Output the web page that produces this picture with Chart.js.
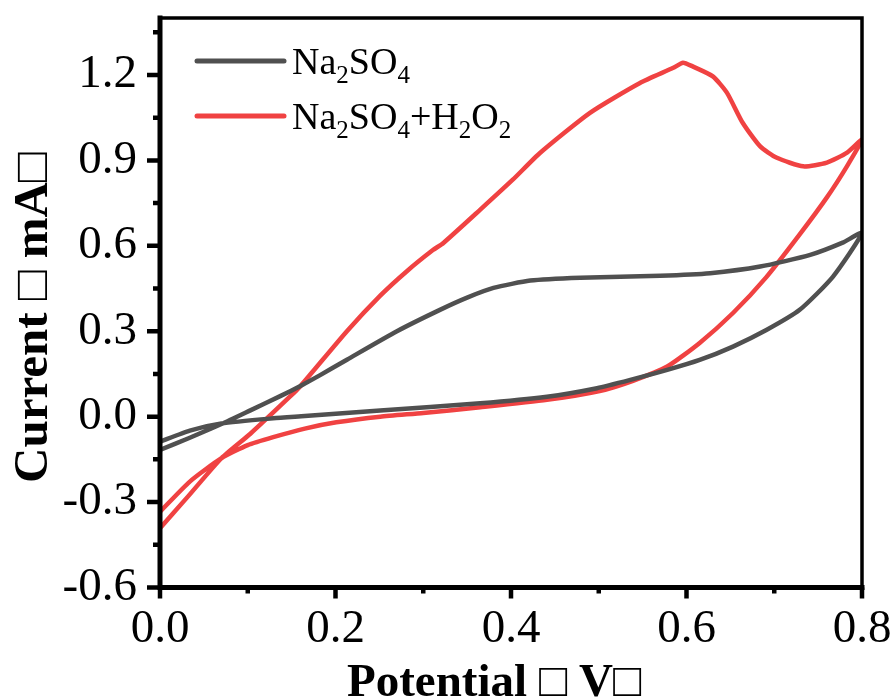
<!DOCTYPE html>
<html>
<head>
<meta charset="utf-8">
<script src="https://cdn.jsdelivr.net/npm/chart.js@4.4.0/dist/chart.umd.min.js"></script>
<style>
  html, body { margin: 0; padding: 0; background: #fff; }
</style>
</head>
<body>
<canvas id="cvChart" width="893" height="700"></canvas>
<script>
// cyclic voltammograms, potential in V, current in mA
const naPotential = [0.000, 0.034, 0.070, 0.103, 0.137, 0.160, 0.182, 0.213, 0.270, 0.319, 0.350, 0.380, 0.422, 0.479, 0.570, 0.627, 0.684, 0.741, 0.778, 0.800,
  0.767, 0.729, 0.691, 0.653, 0.615, 0.578, 0.536, 0.498, 0.441, 0.365, 0.251, 0.165, 0.129, 0.070, 0.034, 0.000];
const naCurrent = [-0.117, -0.074, -0.026, 0.022, 0.072, 0.108, 0.145, 0.200, 0.300, 0.375, 0.418, 0.452, 0.478, 0.488, 0.495, 0.504, 0.527, 0.568, 0.611, 0.645,
  0.492, 0.375, 0.304, 0.246, 0.199, 0.164, 0.129, 0.100, 0.070, 0.047, 0.022, 0.002, -0.006, -0.024, -0.049, -0.088];

const h2o2Potential = [0.000, 0.032, 0.070, 0.103, 0.148, 0.160, 0.213, 0.251, 0.281, 0.311, 0.323, 0.365, 0.402, 0.433, 0.490, 0.547, 0.585, 0.596, 0.607, 0.630, 0.646, 0.664, 0.684, 0.703, 0.733, 0.760, 0.783, 0.800,
  0.783, 0.760, 0.729, 0.691, 0.653, 0.615, 0.578, 0.539, 0.501, 0.441, 0.365, 0.300, 0.251, 0.201, 0.165, 0.129, 0.100, 0.070, 0.034, 0.000];
const h2o2Current = [-0.392, -0.280, -0.146, -0.060, 0.070, 0.107, 0.300, 0.425, 0.510, 0.585, 0.610, 0.727, 0.832, 0.926, 1.067, 1.172, 1.225, 1.243, 1.230, 1.195, 1.138, 1.032, 0.949, 0.909, 0.879, 0.892, 0.927, 0.973,
  0.880, 0.770, 0.640, 0.490, 0.364, 0.259, 0.176, 0.126, 0.090, 0.059, 0.033, 0.013, 0.000, -0.020, -0.042, -0.072, -0.100, -0.146, -0.228, -0.334];

const seriesLabels = ['Na2SO4', 'Na2SO4+H2O2'];
const xTicks = [0.0, 0.2, 0.4, 0.6, 0.8];
const yTicks = [-0.6, -0.3, 0.0, 0.3, 0.6, 0.9, 1.2];
const xTitle = 'Potential \u25A1 V\u25A1';
const yTitle = 'Current \u25A1 mA\u25A1';

const serif = '"Liberation Serif", "Times New Roman", serif';
const grayLine = 'rgb(80, 80, 80)';
const redLine = 'rgb(240, 66, 66)';

function toPoints(xs, ys) {
  return xs.map((x, i) => ({ x: x, y: ys[i] }));
}

// digits in a formula are drawn as subscripts
function drawFormula(ctx, text, x, y, size) {
  const parts = text.split(/(\d+)/).filter(p => p.length);
  parts.forEach(p => {
    const sub = /^\d+$/.test(p);
    ctx.font = (sub ? Math.round(size * 0.66) : size) + 'px ' + serif;
    ctx.fillText(p, x, sub ? y + size * 0.24 : y);
    x += ctx.measureText(p).width;
  });
}

// keep the plot box where the layout padding puts it
function noScalePadding(s) {
  s.paddingTop = 0;
  s.paddingBottom = 0;
  s.paddingLeft = 0;
  s.paddingRight = 0;
}

const cvFrame = {
  id: 'cvFrame',
  afterDraw(chart) {
    const ctx = chart.ctx;
    const a = chart.chartArea;
    const xs = chart.scales.x;
    const ys = chart.scales.y;
    ctx.save();
    ctx.strokeStyle = '#000';
    ctx.lineCap = 'square';

    // top and right borders
    ctx.lineWidth = 3.5;
    ctx.beginPath();
    ctx.moveTo(a.left, a.top);
    ctx.lineTo(a.right, a.top);
    ctx.lineTo(a.right, a.bottom);
    ctx.stroke();

    // left and bottom axes
    ctx.lineWidth = 5;
    ctx.beginPath();
    ctx.moveTo(a.left, a.top);
    ctx.lineTo(a.left, a.bottom);
    ctx.lineTo(a.right, a.bottom);
    ctx.stroke();

    // ticks, outward
    ctx.lineCap = 'butt';
    ctx.lineWidth = 4.5;
    ctx.beginPath();
    yTicks.forEach(v => {
      const py = ys.getPixelForValue(v);
      ctx.moveTo(a.left, py);
      ctx.lineTo(a.left - 13, py);
      const m = v + 0.15;
      if (m <= ys.max) {
        const pm = ys.getPixelForValue(m);
        ctx.moveTo(a.left, pm);
        ctx.lineTo(a.left - 7, pm);
      }
    });
    xTicks.forEach((v, i) => {
      const px = xs.getPixelForValue(v);
      ctx.moveTo(px, a.bottom);
      ctx.lineTo(px, a.bottom + 11);
      if (i < xTicks.length - 1) {
        const pm = xs.getPixelForValue(v + 0.1);
        ctx.moveTo(pm, a.bottom);
        ctx.lineTo(pm, a.bottom + 6);
      }
    });
    ctx.stroke();

    // legend
    ctx.lineCap = 'round';
    ctx.lineWidth = 5;
    ctx.fillStyle = '#000';
    ctx.textBaseline = 'alphabetic';
    ctx.textAlign = 'left';
    chart.data.datasets.forEach((ds, i) => {
      const ly = 61 + i * 55;
      ctx.strokeStyle = ds.borderColor;
      ctx.beginPath();
      ctx.moveTo(197, ly);
      ctx.lineTo(284, ly);
      ctx.stroke();
      drawFormula(ctx, ds.label, 292, ly + 13, 38);
    });

    // axis titles
    ctx.font = 'bold 47px ' + serif;
    ctx.fillText(xTitle, 347, 696);
    ctx.translate(47, 483);
    ctx.rotate(-Math.PI / 2);
    ctx.font = 'bold 49px ' + serif;
    ctx.fillText(yTitle, 0, 0);
    ctx.restore();
  }
};

const tickFont = { family: serif, size: 47 };

new Chart(document.getElementById('cvChart').getContext('2d'), {
  type: 'scatter',
  data: {
    datasets: [
      {
        label: seriesLabels[0],
        data: toPoints(naPotential, naCurrent),
        borderColor: grayLine,
        backgroundColor: grayLine,
        showLine: true,
        borderWidth: 4.5,
        pointRadius: 0,
        tension: 0.2
      },
      {
        label: seriesLabels[1],
        data: toPoints(h2o2Potential, h2o2Current),
        borderColor: redLine,
        backgroundColor: redLine,
        showLine: true,
        borderWidth: 4.5,
        pointRadius: 0,
        tension: 0.2
      }
    ]
  },
  options: {
    responsive: false,
    animation: false,
    layout: { padding: { top: 18, right: 31, left: 0, bottom: 0 } },
    plugins: {
      legend: { display: false },
      tooltip: { enabled: false }
    },
    scales: {
      x: {
        type: 'linear',
        min: 0,
        max: 0.8,
        afterBuildTicks: s => { s.ticks = xTicks.map(v => ({ value: v })); },
        afterFit: s => { s.height = 112.5; noScalePadding(s); },
        grid: { display: false, drawTicks: false },
        border: { display: false },
        ticks: {
          font: tickFont,
          color: '#000',
          padding: 14,
          autoSkip: false,
          maxRotation: 0,
          callback: v => v.toFixed(1)
        }
      },
      y: {
        type: 'linear',
        min: -0.6,
        max: 1.4,
        afterBuildTicks: s => { s.ticks = yTicks.map(v => ({ value: v })); },
        afterFit: s => { s.width = 160; noScalePadding(s); },
        grid: { display: false, drawTicks: false },
        border: { display: false },
        ticks: {
          font: tickFont,
          color: '#000',
          padding: 23,
          autoSkip: false,
          callback: v => v.toFixed(1)
        }
      }
    }
  },
  plugins: [cvFrame]
});
</script>
</body>
</html>
